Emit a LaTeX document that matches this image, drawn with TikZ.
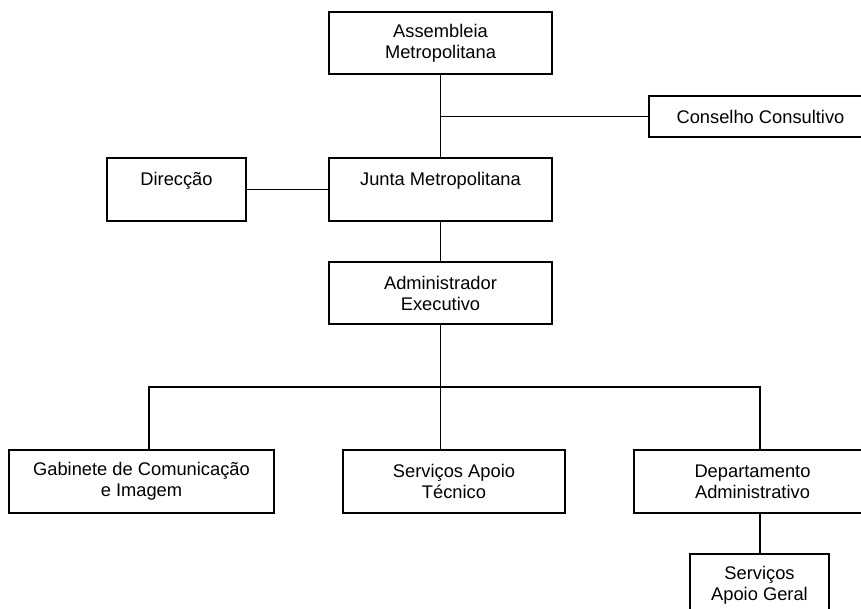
\documentclass[tikz,border=0pt]{standalone}
\usepackage{fontspec}
\setmainfont{Liberation Sans}
\begin{document}
\begin{tikzpicture}[x=1pt,y=-1pt,
  orgbox/.style={draw, line width=1.8pt, fill=white, inner sep=0pt, align=center,
    font=\fontsize{18.3pt}{21pt}\selectfont, minimum height=63pt},
  link/.style={line width=1.8pt, line cap=rect}]
\useasboundingbox (0,0) rectangle (861,608);
\fill[white] (0,0) rectangle (861,608);
\clip (0,0) rectangle (861,608);
\node[orgbox, minimum width=223pt, minimum height=62pt] (asm) at (440.5,43) {Assembleia\\Metropolitana};
\node[orgbox, minimum width=223pt, minimum height=41pt] (cons) at (760.5,116.5) {Conselho Consultivo};
\node[orgbox, minimum width=223pt] (junta) at (440.5,189.5) {Junta Metropolitana\\\mbox{}};
\node[orgbox, minimum width=139pt] (dir) at (176.5,189.5) {Direcção\\\mbox{}};
\node[orgbox, minimum width=223pt, minimum height=62pt] (adm) at (440.5,293) {Administrador\\Executivo};
\node[orgbox, minimum width=265pt] (gab) at (141.5,481.5) {Gabinete de Comunicação\\e Imagem};
\node[orgbox, minimum width=222pt] (tec) at (454,481.5) {Serviços Apoio\\Técnico};
\node[orgbox, minimum width=237pt] (dep) at (752.5,481.5) {Departamento\\Administrativo};
\node[orgbox, minimum width=139pt] (ger) at (759.5,585.5) {Serviços\\Apoio Geral};
\coordinate (bus) at (440.5,387);
\coordinate (gabtop) at ([xshift=7.5pt]gab.north);
\coordinate (deptop) at ([xshift=7.5pt]dep.north);
\coordinate (depbot) at ([xshift=7.5pt]dep.south);
\begin{scope}[link]
\draw (asm.south) -- (junta.north);
\draw (cons.west) -- (cons.west -| asm.south);
\draw (dir.east) -- (junta.west);
\draw (junta.south) -- (adm.north);
\draw (adm.south) -- (adm.south |- tec.north);
\draw (gabtop) |- (bus) -| (deptop);
\draw (depbot) -- (depbot |- ger.north);
\end{scope}
\end{tikzpicture}
\end{document}
